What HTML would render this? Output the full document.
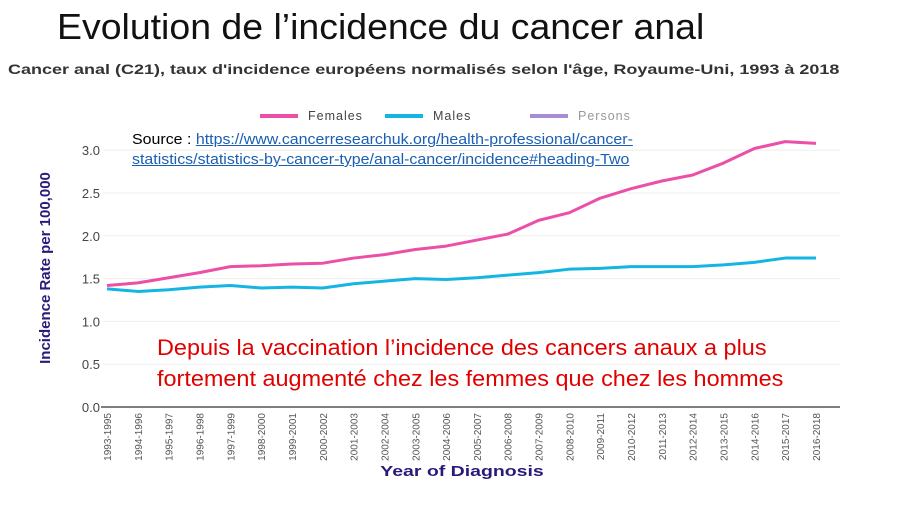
<!DOCTYPE html>
<html><head><meta charset="utf-8"><style>
body{margin:0;width:908px;height:512px;background:#fff;overflow:hidden;font-family:"Liberation Sans",sans-serif;position:relative}
.t{position:absolute;white-space:nowrap;transform-origin:0 0}
</style></head><body>
<div class="t" style="left:57px;top:6px;font-size:36px;color:#111;transform:scaleX(1.04)">Evolution de l’incidence du cancer anal</div>
<div class="t" style="left:8px;top:61px;font-size:14px;font-weight:bold;color:#333;transform:scaleX(1.285)">Cancer anal (C21), taux d'incidence européens normalisés selon l'âge, Royaume-Uni, 1993 à 2018</div>
<svg id="c" width="908" height="512" style="position:absolute;left:0;top:0"></svg>
<div class="t" style="left:132px;top:130px;font-size:14.5px;line-height:20px;color:#000;transform:scaleX(1.1)">Source : <a style="color:#1a5fb4;text-decoration:underline">https://www.cancerresearchuk.org/health-professional/cancer-</a><br><a style="color:#1a5fb4;text-decoration:underline">statistics/statistics-by-cancer-type/anal-cancer/incidence#heading-Two</a></div>
<div class="t" style="left:157px;top:332px;font-size:22px;line-height:31px;color:#e00000;transform:scaleX(1.065)">Depuis la vaccination l’incidence des cancers anaux a plus<br>fortement augmenté chez les femmes que chez les hommes</div>
<script>
const categories=["1993-1995","1994-1996","1995-1997","1996-1998","1997-1999","1998-2000","1999-2001","2000-2002","2001-2003","2002-2004","2003-2005","2004-2006","2005-2007","2006-2008","2007-2009","2008-2010","2009-2011","2010-2012","2011-2013","2012-2014","2013-2015","2014-2016","2015-2017","2016-2018"];
const females=[1.42,1.45,1.51,1.57,1.64,1.65,1.67,1.68,1.74,1.78,1.84,1.88,1.95,2.02,2.18,2.27,2.44,2.55,2.64,2.71,2.85,3.02,3.10,3.08];
const males=[1.38,1.35,1.37,1.40,1.42,1.39,1.40,1.39,1.44,1.47,1.50,1.49,1.51,1.54,1.57,1.61,1.62,1.64,1.64,1.64,1.66,1.69,1.74,1.74];
const yTicks=[0,0.5,1.0,1.5,2.0,2.5,3.0];
const NS="http://www.w3.org/2000/svg",svg=document.getElementById('c');
const x0=107,x1=816,y0=407,ypx=85.6;
const X=i=>x0+i*(x1-x0)/(categories.length-1);
const Y=v=>y0-v*ypx;
function mk(t,a,p){const e=document.createElementNS(NS,t);for(const k in a)e.setAttribute(k,a[k]);(p||svg).appendChild(e);return e;}
yTicks.forEach(v=>{
 if(v>0){const g=mk('line',{x1:103,x2:840,y1:Y(v),y2:Y(v),stroke:'#eee','stroke-width':1});
 
 }
 const t=mk('text',{x:100,y:Y(v)+5,'text-anchor':'end','font-size':13,fill:'#444','font-family':'Liberation Sans, sans-serif'});
 t.textContent=v.toFixed(1);
 
 
});
const ax=mk('line',{x1:101,x2:840,y1:y0,y2:y0,stroke:'#333','stroke-width':1.2});


categories.forEach((c,i)=>{
 const t=mk('text',{transform:`translate(${X(i)+4},413) rotate(-90)`,'text-anchor':'end','font-size':10,fill:'#555','font-family':'Liberation Sans, sans-serif'});
 t.textContent=c;
 
 
});
function line(d,col,name){const p=mk('polyline',{points:d.map((v,i)=>X(i)+','+Y(v)).join(' '),fill:'none',stroke:col,'stroke-width':3,'stroke-linejoin':'round'});
 
 }
line(females,'#ec4fa7','females-line');
line(males,'#14b5e2','males-line');
const leg=[['Females','#ec4fa7','#444',260],['Males','#14b5e2','#444',385],['Persons','#a58cd4','#999',530]];
leg.forEach(l=>{
 const g=mk('g',{});
 
 
 mk('line',{x1:l[3],x2:l[3]+38,y1:116,y2:116,stroke:l[1],'stroke-width':4},g);
 const t=mk('text',{x:l[3]+48,y:120,'font-size':12.5,fill:l[2],'font-family':'Liberation Sans, sans-serif','letter-spacing':1},g);
 t.textContent=l[0];
});
const yt=mk('text',{transform:'translate(50,268) rotate(-90)','text-anchor':'middle','font-size':15,'font-weight':'bold',fill:'#2b1a7a','font-family':'Liberation Sans, sans-serif'});
yt.textContent='Incidence Rate per 100,000';


const xt=mk('text',{transform:'translate(462,476) scale(1.3,1)','text-anchor':'middle','font-size':15,'font-weight':'bold',fill:'#2b1a7a','font-family':'Liberation Sans, sans-serif'});
xt.textContent='Year of Diagnosis';


</script>
</body></html>
